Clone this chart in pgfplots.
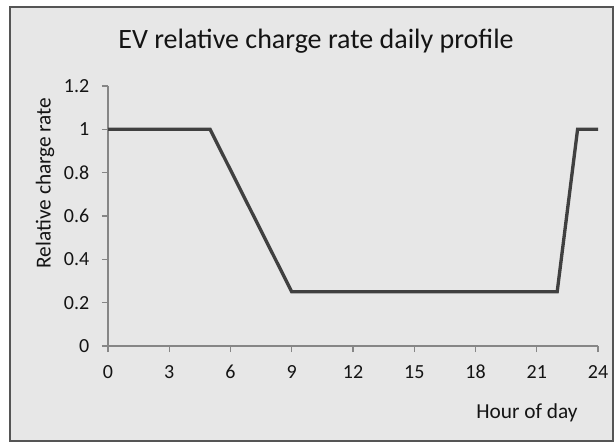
\documentclass[border=0pt]{standalone}
\usepackage{fontspec}
\setmainfont{Carlito}
\usepackage{pgfplots}
\pgfplotsset{compat=1.18}
\definecolor{bg}{RGB}{231,231,231}
\definecolor{framecol}{RGB}{85,85,85}
\definecolor{axcol}{RGB}{134,134,134}
\definecolor{linecol}{RGB}{64,64,64}
\definecolor{txt}{RGB}{20,20,20}
\newcommand\PX[2]{({#1*0.75pt},{(443-#2)*0.75pt})}
\begin{document}
\begin{tikzpicture}
\fill[white] \PX{0}{0} rectangle \PX{614}{443};
\fill[bg] \PX{10}{7} rectangle \PX{613}{441};
\draw[framecol, line width=1.5pt] \PX{10}{7} rectangle \PX{613}{441};
\begin{axis}[
  at={(81pt,72.75pt)}, anchor=south west,
  scale only axis, width=367.5pt, height=195pt,
  xmin=0, xmax=24, ymin=0, ymax=1.2,
  axis x line=bottom, axis y line=left,
  axis line style={axcol, line width=0.8pt, -},
  tick style={axcol, line width=0.8pt},
  tick align=outside, major tick length=4.5pt,
  xtick={0,3,6,9,12,15,18,21,24},
  ytick={0,0.2,0.4,0.6,0.8,1,1.2},
  yticklabels={0,0.2,0.4,0.6,0.8,1,1.2},
  /pgf/number format/assume math mode=true,
  ticklabel style={font=\fontsize{15}{17}\selectfont, text=txt},
  xticklabel style={yshift=-6pt, text height=10.5pt, text depth=0pt},
  yticklabel style={xshift=-6pt},
  clip=false,
]
\addplot[linecol, line width=2.5pt, line join=miter] coordinates {
(0,1) (5,1) (9,0.25) (22,0.25) (23,1) (24,1)
};
\end{axis}
\node[text=txt, font=\fontsize{21}{24}\selectfont] at \PX{316}{41} {EV relative charge rate daily profile};
\node[text=txt, font=\fontsize{16}{18}\selectfont, rotate=90] at \PX{45}{183} {Relative charge rate};
\node[text=txt, font=\fontsize{16}{18}\selectfont] at \PX{527}{413} {Hour of day};
\end{tikzpicture}
\end{document}
